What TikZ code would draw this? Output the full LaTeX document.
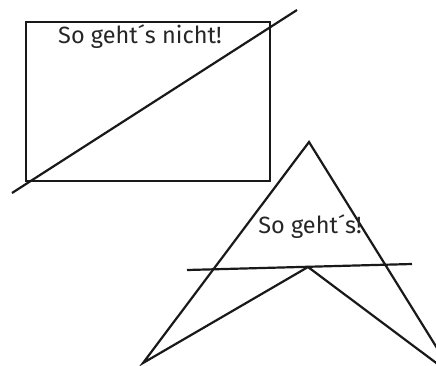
\documentclass[tikz,border=0pt]{standalone}
\usepackage{fontspec}
\setmainfont{Fira Sans}
\begin{document}
\begin{tikzpicture}[x=1pt,y=-1pt,
  stroke/.style={line width=2.2pt, line cap=butt, line join=miter, draw=black!90},
  lbl/.style={font=\fontsize{23.5}{28}\selectfont, text=black!85, inner sep=0pt, anchor=base}]
\useasboundingbox (0,0) rectangle (436,365);
\clip (0,0) rectangle (436,365);
% rectangle with crossing line
\coordinate (r1) at (26,22);
\coordinate (r2) at (270,181);
\draw[stroke] (r1) rectangle (r2);
\coordinate (d1) at (12,193);
\coordinate (d2) at (297,10);
\draw[stroke] (d1) -- (d2);
\node[lbl] (t1) at (140,43) {So geht´s nicht!};
% arrow-like figure
\coordinate (apex) at (309,142);
\coordinate (bl) at (143,363);
\coordinate (inner) at (308,267);
\coordinate (br) at (455,377);
\draw[stroke] (bl) -- (apex) -- (br) -- (inner) -- cycle;
\coordinate (h1) at (187,270);
\coordinate (h2) at (412,264);
\draw[stroke] (h1) -- (h2);
\node[lbl] (t2) at (310,233) {So geht´s!};
\end{tikzpicture}
\end{document}
